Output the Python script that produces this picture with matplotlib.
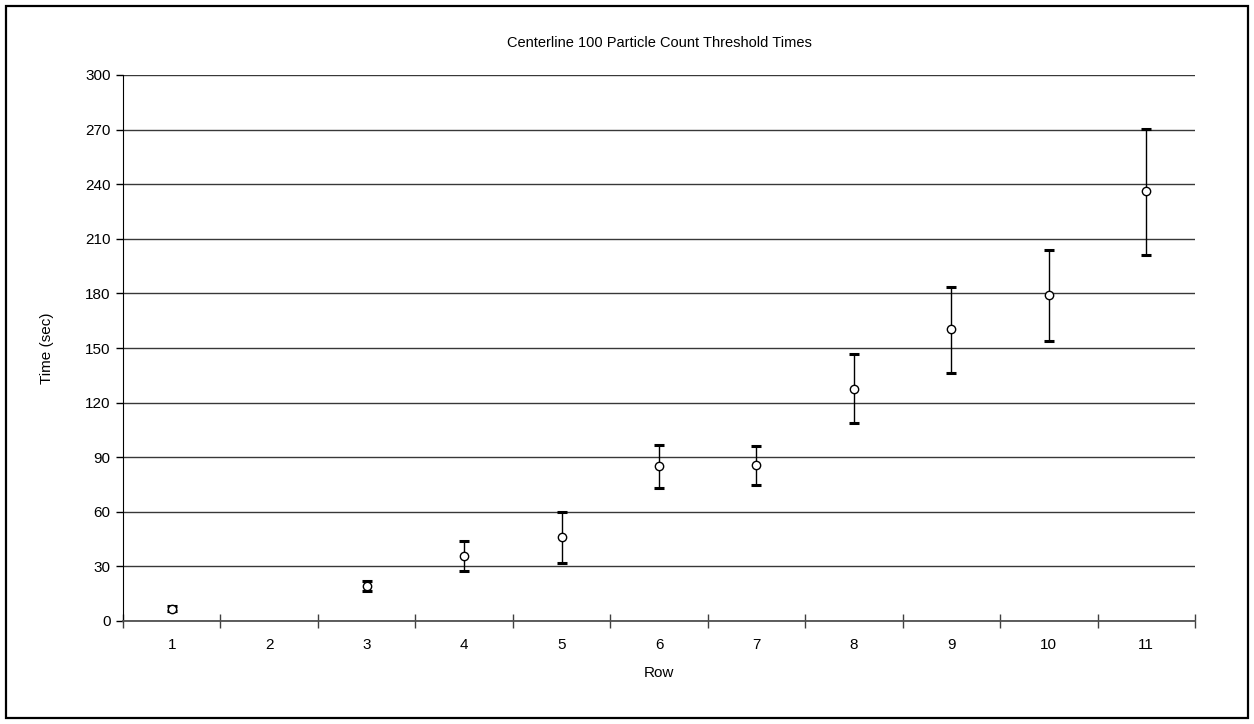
import matplotlib.pyplot as plt
from matplotlib.patches import Rectangle
import numpy as np

plt.rcParams['font.family'] = ['Liberation Sans', 'DejaVu Sans']

rows = [1, 2, 3, 4, 5, 6, 7, 8, 9, 10, 11]
# mean threshold time per row (row 2 has no data)
mean_time = [6.8, np.nan, 19.0, 35.5, 46.4, 85.0, 85.5, 127.7, 160.5, 178.9, 236.4]
low_time = [5.3, np.nan, 16.5, 27.6, 31.8, 73.3, 74.6, 108.8, 136.4, 154.0, 201.3]
high_time = [8.4, np.nan, 21.8, 44.0, 60.0, 96.5, 96.4, 146.7, 183.7, 203.6, 270.2]

mean_arr = np.array(mean_time)
err_lo = mean_arr - np.array(low_time)
err_hi = np.array(high_time) - mean_arr

fig = plt.figure(figsize=(12.54, 7.24), dpi=100)
ax = fig.add_axes([123 / 1254, 1 - 621 / 724, (1195 - 123) / 1254, (621 - 75) / 724])

# chart frame around the whole figure
fig.patches.append(Rectangle((6 / 1254, 6 / 724), 1242 / 1254, 712 / 724,
                             transform=fig.transFigure, fill=False,
                             edgecolor='black', linewidth=1.6))

# error bar stems
ax.errorbar(rows, mean_time, yerr=[err_lo, err_hi], fmt='none',
            ecolor='black', elinewidth=1.0, capsize=0, zorder=3)
# thick short caps
ax.plot(rows, low_time, linestyle='none', marker='_', markersize=7.5,
        markeredgewidth=2.2, color='black', zorder=3)
ax.plot(rows, high_time, linestyle='none', marker='_', markersize=7.5,
        markeredgewidth=2.2, color='black', zorder=3)
# mean points
ax.plot(rows, mean_time, linestyle='none', marker='o', markersize=6,
        markerfacecolor='white', markeredgecolor='black',
        markeredgewidth=1.0, zorder=4)

ax.set_xlim(0.5, 11.5)
ax.set_ylim(0, 300)
ax.set_yticks(np.arange(0, 301, 30))
ax.set_xticks(rows)
ax.set_xticks(np.arange(0.5, 12, 1), minor=True)
ax.tick_params(axis='x', which='major', length=0, pad=12, labelsize=11)
ax.tick_params(axis='x', which='minor', length=10, direction='inout',
               color='#404040', width=1.0)
ax.tick_params(axis='y', which='major', length=5, direction='out',
               labelsize=11, pad=4, width=1.0)

ax.yaxis.grid(True, color='#383838', linewidth=1.0)
ax.set_axisbelow(True)

for side in ['top', 'right']:
    ax.spines[side].set_visible(False)
ax.spines['left'].set_color('black')
ax.spines['bottom'].set_color('#505050')
ax.spines['bottom'].set_linewidth(1.3)

ax.set_title('Centerline 100 Particle Count Threshold Times', fontsize=10.5, pad=20)
ax.set_xlabel('Row', fontsize=11, labelpad=10)
ax.set_ylabel('Time (sec)', fontsize=11, labelpad=22)

fig.savefig('out.png', dpi=100)
